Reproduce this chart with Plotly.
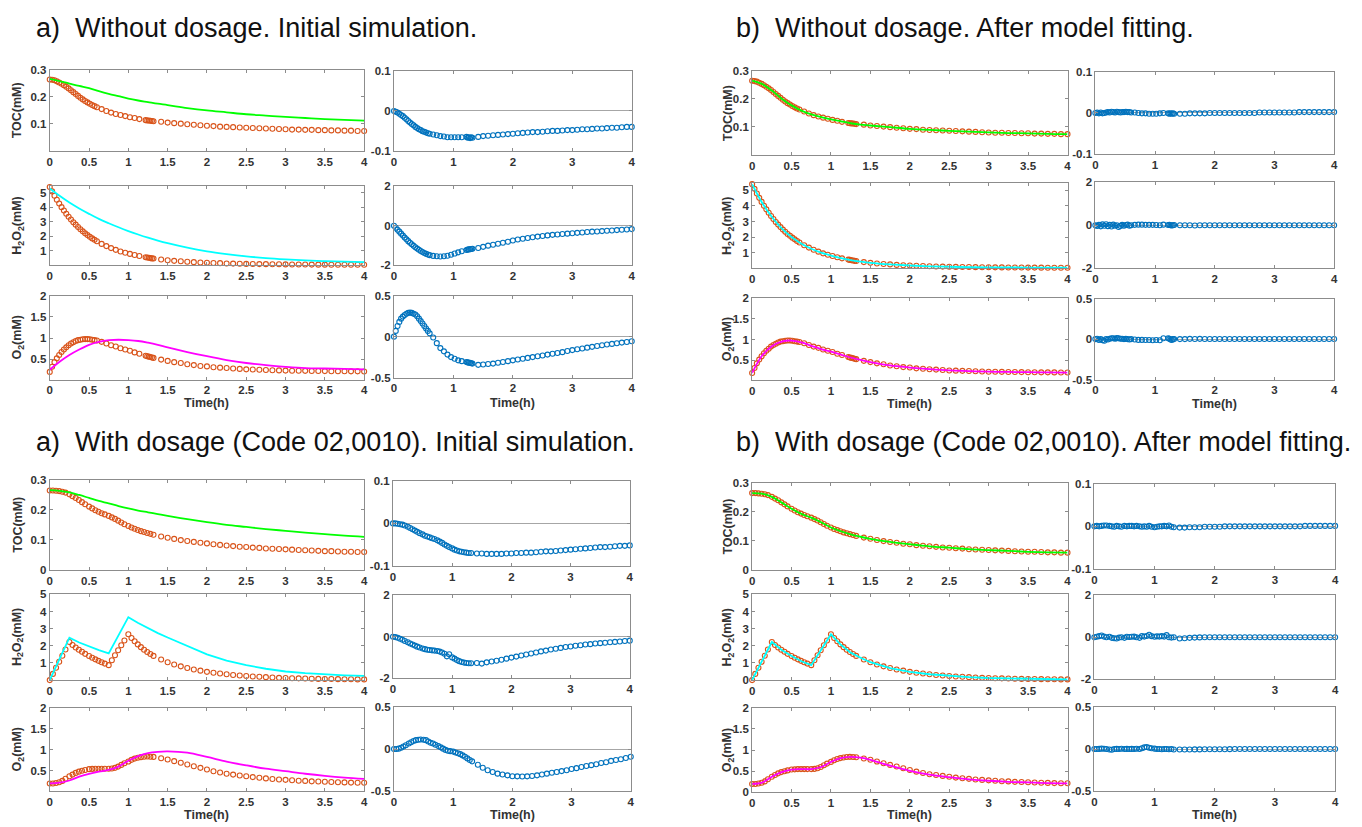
import plotly.graph_objects as go

W, H = 1362, 827

# ---------------- time grids (h) ----------------
T_TAIL = [1.417, 1.5, 1.583, 1.667, 1.75, 1.833, 1.917, 2.0,
          2.083, 2.167, 2.25, 2.333, 2.417, 2.5, 2.583, 2.667,
          2.75, 2.833, 2.917, 3.0, 3.083, 3.167, 3.25, 3.333,
          3.417, 3.5, 3.583, 3.667, 3.75, 3.833, 3.917, 4.0]
T_A = [0, 0.03, 0.06, 0.09, 0.12, 0.15, 0.18, 0.21, 0.24, 0.27, 0.30,
       0.33, 0.36, 0.39, 0.42, 0.45, 0.48, 0.51, 0.54, 0.57, 0.60,
       0.66, 0.72, 0.78, 0.84, 0.90, 0.96, 1.02, 1.08, 1.14,
       1.22, 1.24, 1.26, 1.28, 1.30, 1.32] + T_TAIL
T_B = [0, 0.04, 0.08, 0.12, 0.16, 0.20, 0.25, 0.29, 0.33, 0.37, 0.41,
       0.45, 0.50, 0.54, 0.58, 0.62, 0.66, 0.70, 0.75, 0.79, 0.83, 0.87,
       0.91, 0.95, 1.00, 1.04, 1.08, 1.12, 1.16, 1.20, 1.24, 1.28, 1.32] + T_TAIL
T_M = [0, 0.125, 0.25, 0.375, 0.5, 0.625, 0.75, 0.875, 1.0, 1.125, 1.25, 1.375,
       1.5, 1.75, 2.0, 2.25, 2.5, 2.75, 3.0, 3.25, 3.5, 3.75, 4.0]

# ---------------- experiment without dosage ----------------
TOC_A = [0.265, 0.264, 0.262, 0.258, 0.254, 0.249, 0.244, 0.238, 0.232, 0.225, 0.218,
         0.211, 0.204, 0.197, 0.191, 0.185, 0.180, 0.175, 0.170, 0.166, 0.162,
         0.155, 0.148, 0.142, 0.137, 0.133, 0.129, 0.125, 0.122, 0.118,
         0.114, 0.113, 0.1125, 0.112, 0.111, 0.110,
         0.108, 0.105, 0.103, 0.101, 0.099, 0.097, 0.095, 0.093,
         0.092, 0.090, 0.089, 0.088, 0.087, 0.086, 0.085, 0.084,
         0.083, 0.082, 0.081, 0.080, 0.079, 0.079, 0.078, 0.078,
         0.077, 0.077, 0.076, 0.076, 0.075, 0.075, 0.074, 0.074]
H2O2_A = [5.40, 5.10, 4.80, 4.52, 4.26, 4.01, 3.78, 3.56, 3.35, 3.16, 2.97,
          2.80, 2.64, 2.48, 2.34, 2.20, 2.08, 1.96, 1.85, 1.75, 1.65,
          1.47, 1.32, 1.18, 1.06, 0.95, 0.86, 0.78, 0.70, 0.63,
          0.55, 0.53, 0.51, 0.49, 0.47, 0.46,
          0.39, 0.34, 0.30, 0.27, 0.24, 0.21, 0.19, 0.17,
          0.15, 0.14, 0.12, 0.11, 0.10, 0.09, 0.08, 0.075,
          0.07, 0.065, 0.06, 0.055, 0.05, 0.047, 0.044, 0.041,
          0.038, 0.036, 0.034, 0.032, 0.030, 0.029, 0.028, 0.027]
O2_A = [0.20, 0.32, 0.43, 0.52, 0.60, 0.67, 0.73, 0.78, 0.83, 0.87, 0.90,
        0.93, 0.95, 0.96, 0.97, 0.975, 0.975, 0.97, 0.96, 0.95, 0.94,
        0.91, 0.87, 0.83, 0.80, 0.76, 0.73, 0.70, 0.66, 0.63,
        0.58, 0.57, 0.56, 0.55, 0.54, 0.53,
        0.49, 0.46, 0.43, 0.41, 0.38, 0.36, 0.34, 0.33,
        0.31, 0.30, 0.29, 0.28, 0.27, 0.26, 0.255, 0.25,
        0.245, 0.24, 0.235, 0.23, 0.228, 0.226, 0.224, 0.222,
        0.22, 0.218, 0.216, 0.215, 0.214, 0.213, 0.212, 0.21]

# initial simulation (a) models
TOC_A_SIM = [0.267, 0.259, 0.250, 0.241, 0.233, 0.222, 0.212, 0.203, 0.194, 0.187, 0.181, 0.175,
             0.170, 0.159, 0.150, 0.143, 0.136, 0.131, 0.126, 0.122, 0.118, 0.115, 0.112]
H2O2_A_SIM = [5.30, 4.80, 4.33, 3.92, 3.55, 3.20, 2.90, 2.62, 2.36, 2.12, 1.90, 1.70,
              1.52, 1.21, 0.96, 0.77, 0.61, 0.49, 0.40, 0.33, 0.28, 0.24, 0.21]
O2_A_SIM = [0.25, 0.44, 0.60, 0.73, 0.84, 0.91, 0.95, 0.96, 0.95, 0.93, 0.89, 0.84,
            0.78, 0.67, 0.57, 0.48, 0.41, 0.36, 0.32, 0.29, 0.28, 0.27, 0.26]
# residuals (a)
TOC_A_RES = [0, -0.002, -0.004, -0.007, -0.010, -0.013, -0.017, -0.021, -0.025, -0.029, -0.033,
             -0.036, -0.040, -0.043, -0.046, -0.048, -0.051, -0.052, -0.054, -0.056, -0.057,
             -0.059, -0.061, -0.063, -0.064, -0.066, -0.066, -0.066, -0.066, -0.066,
             -0.065, -0.067, -0.066, -0.068, -0.066, -0.067,
             -0.065, -0.063, -0.062, -0.061, -0.060, -0.059, -0.058, -0.057,
             -0.056, -0.055, -0.054, -0.053, -0.053, -0.052, -0.051, -0.050,
             -0.050, -0.049, -0.048, -0.048, -0.047, -0.046, -0.046, -0.045,
             -0.044, -0.044, -0.043, -0.042, -0.042, -0.041, -0.040, -0.040]
H2O2_A_RES = [0, -0.10, -0.20, -0.30, -0.40, -0.50, -0.60, -0.69, -0.78, -0.86, -0.94,
              -1.02, -1.09, -1.16, -1.22, -1.28, -1.33, -1.38, -1.42, -1.46, -1.49,
              -1.53, -1.55, -1.56, -1.55, -1.52, -1.47, -1.41, -1.35, -1.29,
              -1.23, -1.21, -1.20, -1.19, -1.18, -1.17,
              -1.13, -1.07, -1.01, -0.96, -0.91, -0.86, -0.81, -0.75,
              -0.70, -0.66, -0.62, -0.58, -0.55, -0.52, -0.49, -0.46,
              -0.44, -0.42, -0.40, -0.38, -0.36, -0.34, -0.32, -0.30,
              -0.29, -0.27, -0.25, -0.24, -0.22, -0.20, -0.19, -0.17]
O2_A_RES = [0, 0.07, 0.13, 0.18, 0.22, 0.245, 0.265, 0.28, 0.29, 0.295, 0.29,
            0.28, 0.27, 0.25, 0.22, 0.19, 0.16, 0.13, 0.10, 0.07, 0.04,
            -0.01, -0.08, -0.14, -0.18, -0.22, -0.25, -0.27, -0.29, -0.30,
            -0.31, -0.315, -0.32, -0.32, -0.325, -0.33,
            -0.345, -0.34, -0.335, -0.33, -0.32, -0.31, -0.30, -0.29,
            -0.28, -0.27, -0.26, -0.25, -0.24, -0.23, -0.22, -0.21,
            -0.20, -0.19, -0.175, -0.165, -0.155, -0.145, -0.135, -0.125,
            -0.115, -0.105, -0.097, -0.089, -0.081, -0.073, -0.065, -0.057]

# fitted (b) models
TOC_B_FIT = [0.266, 0.254, 0.230, 0.201, 0.177, 0.158, 0.145, 0.135, 0.127, 0.120, 0.113, 0.108,
             0.105, 0.099, 0.093, 0.089, 0.086, 0.083, 0.080, 0.078, 0.077, 0.075, 0.074]
H2O2_B_FIT = [5.40, 4.22, 3.29, 2.56, 2.00, 1.57, 1.25, 1.00, 0.81, 0.65, 0.52, 0.42,
              0.34, 0.24, 0.17, 0.12, 0.09, 0.07, 0.055, 0.046, 0.038, 0.032, 0.027]
O2_B_FIT = [0.20, 0.61, 0.84, 0.95, 0.975, 0.93, 0.85, 0.77, 0.71, 0.64, 0.57, 0.51,
            0.46, 0.38, 0.33, 0.29, 0.26, 0.245, 0.23, 0.224, 0.218, 0.214, 0.21]
# residuals (b)
TOC_B_RES = [0, 0.001, -0.001, 0.001, -0.001, 0, 0.001, 0.002, 0.001, 0.003, 0.002,
             0.001, 0.003, 0.002, 0.001, 0.002, 0.002, 0.003, 0.002, 0.002, 0.001,
             0.001, 0, -0.001, -0.001, -0.002, -0.002, -0.002, -0.001, 0,
             -0.001, -0.002, -0.001, -0.002, -0.001, -0.002,
             -0.002, -0.002, -0.001, -0.001, -0.001, -0.001, 0, 0,
             0, 0, 0, 0, 0, 0, 0, 0,
             0.001, 0.001, 0.001, 0.001, 0.001, 0.001, 0.001, 0.001,
             0.002, 0.002, 0.002, 0.002, 0.002, 0.002, 0.002, 0.002]
H2O2_B_RES = [0, -0.03, 0.02, -0.05, 0.04, -0.02, 0.05, -0.04, 0.02, -0.06, 0.03,
              -0.02, 0.0, -0.08, -0.03, 0.02, -0.02, 0.01, 0.03, -0.02, 0.0,
              0.02, 0.03, 0.03, 0.02, 0.02, 0.02, 0.01, 0.0, 0.03,
              0.01, 0.02, 0.0, -0.01, 0.0, 0.01,
              0, 0, 0, -0.01, 0, 0, 0, 0,
              0, 0, 0, 0, 0, 0, 0, 0,
              0, 0, 0, 0, 0, 0, 0, 0,
              0, 0, 0, 0, 0, 0, 0, 0]
O2_B_RES = [0, 0.005, -0.01, 0.0, -0.015, -0.02, 0.0, -0.005, 0.005, 0.01, 0.01,
            0.005, 0.012, 0.01, 0.005, 0.005, 0.0, 0.003, 0.0, -0.005, 0.0,
            -0.005, -0.01, -0.01, -0.012, -0.012, -0.015, -0.012, -0.015, 0.01,
            0.01, 0.005, -0.005, -0.01, 0.0, 0.0,
            0, 0, 0.003, 0.002, 0.003, 0.002, 0.002, 0.002,
            0.002, 0.002, 0.002, 0.002, 0.002, 0.002, 0.002, 0.002,
            0.001, 0.001, 0.001, 0.001, 0.001, 0.001, 0.001, 0.001,
            0.001, 0.001, 0.001, 0.001, 0.001, 0.001, 0.001, 0.001]

# ---------------- experiment with dosage (Code 02,0010) ----------------
TOC_C = [0.265, 0.265, 0.264, 0.263, 0.261, 0.258, 0.252, 0.246, 0.240, 0.233, 0.226,
         0.219, 0.211, 0.205, 0.199, 0.194, 0.189, 0.185, 0.180, 0.175, 0.170, 0.164,
         0.158, 0.152, 0.146, 0.141, 0.137, 0.133, 0.129, 0.126, 0.123, 0.120, 0.117,
         0.111, 0.107, 0.103, 0.099, 0.096, 0.093, 0.090, 0.088,
         0.085, 0.083, 0.081, 0.079, 0.077, 0.076, 0.074, 0.073,
         0.071, 0.070, 0.069, 0.068, 0.067, 0.066, 0.065, 0.064,
         0.063, 0.062, 0.062, 0.061, 0.060, 0.060, 0.059, 0.059]
H2O2_C = [0.0, 0.36, 0.72, 1.07, 1.42, 1.78, 2.22, 2.05, 1.90, 1.77, 1.65,
          1.53, 1.40, 1.30, 1.21, 1.12, 1.04, 0.96, 0.87, 1.16, 1.45, 1.74,
          2.03, 2.31, 2.67, 2.45, 2.26, 2.08, 1.92, 1.77, 1.64, 1.52, 1.41,
          1.20, 1.04, 0.91, 0.80, 0.70, 0.62, 0.55, 0.48,
          0.43, 0.38, 0.34, 0.30, 0.27, 0.24, 0.21, 0.19,
          0.17, 0.15, 0.13, 0.12, 0.11, 0.10, 0.09, 0.08,
          0.07, 0.065, 0.06, 0.055, 0.05, 0.045, 0.04, 0.04]
O2_C = [0.20, 0.20, 0.21, 0.23, 0.26, 0.31, 0.37, 0.41, 0.45, 0.48, 0.50,
        0.52, 0.54, 0.545, 0.55, 0.55, 0.55, 0.55, 0.55, 0.555, 0.57, 0.60,
        0.64, 0.68, 0.72, 0.76, 0.79, 0.81, 0.825, 0.835, 0.84, 0.835, 0.83,
        0.80, 0.77, 0.73, 0.69, 0.65, 0.61, 0.57, 0.53,
        0.49, 0.46, 0.43, 0.41, 0.39, 0.37, 0.35, 0.335,
        0.32, 0.305, 0.295, 0.285, 0.275, 0.265, 0.26, 0.25,
        0.245, 0.24, 0.235, 0.23, 0.225, 0.22, 0.218, 0.215]

# initial simulation (c) models
TOC_C_SIM = [0.266, 0.264, 0.259, 0.250, 0.240, 0.230, 0.222, 0.213, 0.205, 0.198, 0.192, 0.186,
             0.180, 0.169, 0.159, 0.150, 0.143, 0.136, 0.130, 0.124, 0.119, 0.114, 0.110]
H2O2_C_SIM = [0.0, 1.24, 2.47, 2.19, 1.96, 1.75, 1.56, 2.61, 3.67, 3.33, 3.02, 2.74,
              2.48, 1.98, 1.50, 1.14, 0.87, 0.66, 0.50, 0.40, 0.33, 0.28, 0.24]
O2_C_SIM = [0.20, 0.22, 0.27, 0.36, 0.43, 0.48, 0.52, 0.60, 0.74, 0.85, 0.92, 0.95,
            0.96, 0.93, 0.83, 0.72, 0.63, 0.55, 0.49, 0.43, 0.38, 0.34, 0.31]
# residuals (c)
TOC_C_RES = [0, 0, -0.001, -0.002, -0.003, -0.005, -0.008, -0.011, -0.014, -0.017, -0.020,
             -0.023, -0.026, -0.029, -0.031, -0.033, -0.035, -0.037, -0.040, -0.043, -0.046, -0.050,
             -0.053, -0.056, -0.059, -0.062, -0.064, -0.066, -0.067, -0.068, -0.069, -0.070, -0.070,
             -0.071, -0.071, -0.072, -0.072, -0.072, -0.072, -0.071, -0.071,
             -0.070, -0.070, -0.069, -0.069, -0.068, -0.067, -0.066, -0.066,
             -0.065, -0.064, -0.063, -0.062, -0.061, -0.060, -0.059, -0.058,
             -0.057, -0.056, -0.056, -0.055, -0.054, -0.053, -0.053, -0.052]
H2O2_C_RES = [0, -0.02, -0.05, -0.10, -0.15, -0.21, -0.27, -0.33, -0.38, -0.43, -0.48,
              -0.52, -0.57, -0.60, -0.63, -0.64, -0.66, -0.67, -0.69, -0.72, -0.76, -0.82,
              -0.95, -0.85, -1.00, -1.06, -1.13, -1.18, -1.22, -1.25, -1.27, -1.28, -1.28,
              -1.27, -1.30, -1.24, -1.20, -1.16, -1.11, -1.06, -1.01,
              -0.96, -0.91, -0.86, -0.81, -0.76, -0.71, -0.67, -0.62,
              -0.58, -0.54, -0.50, -0.47, -0.44, -0.41, -0.38, -0.36,
              -0.33, -0.31, -0.29, -0.27, -0.25, -0.23, -0.21, -0.19]
O2_C_RES = [0, 0.0, 0.005, 0.015, 0.03, 0.045, 0.065, 0.08, 0.095, 0.105, 0.11,
            0.112, 0.11, 0.105, 0.09, 0.075, 0.065, 0.05, 0.035, 0.02, 0.005, -0.01,
            -0.02, -0.025, -0.03, -0.04, -0.05, -0.06, -0.075, -0.09, -0.11, -0.13, -0.145,
            -0.185, -0.22, -0.25, -0.27, -0.29, -0.30, -0.31, -0.32,
            -0.322, -0.323, -0.322, -0.318, -0.31, -0.30, -0.29, -0.28,
            -0.27, -0.26, -0.25, -0.235, -0.225, -0.212, -0.20, -0.19,
            -0.18, -0.165, -0.155, -0.14, -0.13, -0.12, -0.105, -0.09]

# fitted (d) models
TOC_D_FIT = [0.265, 0.263, 0.252, 0.232, 0.211, 0.193, 0.180, 0.164, 0.146, 0.133, 0.122, 0.114,
             0.107, 0.096, 0.088, 0.081, 0.076, 0.071, 0.068, 0.065, 0.062, 0.060, 0.059]
H2O2_D_FIT = [0.0, 1.11, 2.22, 1.76, 1.40, 1.10, 0.87, 1.77, 2.67, 2.06, 1.60, 1.30,
              1.04, 0.70, 0.48, 0.34, 0.24, 0.17, 0.12, 0.09, 0.065, 0.05, 0.04]
O2_D_FIT = [0.20, 0.23, 0.37, 0.48, 0.54, 0.55, 0.55, 0.60, 0.72, 0.81, 0.84, 0.82,
            0.77, 0.63, 0.51, 0.42, 0.36, 0.31, 0.275, 0.25, 0.235, 0.22, 0.215]
# residuals (d)
TOC_D_RES = [0, 0.001, 0, 0.001, 0.002, 0.002, 0.001, 0, -0.001, 0.001, 0,
             -0.001, 0.001, 0, 0.001, 0.001, 0, 0.001, 0, -0.001, 0, -0.001,
             0.001, -0.001, -0.002, -0.001, 0, 0, 0.001, 0, 0.002, -0.001, -0.002,
             -0.003, -0.003, -0.002, -0.002, -0.002, -0.001, -0.001, -0.001,
             -0.001, 0, 0, 0, 0, 0, 0, 0,
             0, 0, 0, 0, 0, 0, 0, 0,
             0, 0.001, 0.001, 0.001, 0.001, 0.001, 0.001, 0.001]
H2O2_D_RES = [0, 0.02, 0.05, 0.08, 0.03, 0.0, 0.02, -0.03, -0.05, -0.06, -0.02,
              0.0, -0.03, 0.02, 0.01, 0.02, 0.03, 0.0, -0.03, 0.05, 0.03, 0.06,
              0.12, 0.05, 0.02, 0.04, 0.03, 0.05, 0.03, 0.10, 0.0, -0.02, 0.0,
              -0.06, -0.05, -0.03, -0.02, -0.01, 0, 0, 0,
              0, 0, 0, 0, 0, 0, 0, 0,
              0, 0, 0, 0, 0, 0, 0, 0,
              0, 0, 0, 0, 0, 0, 0, 0]
O2_D_RES = [0, 0, 0.002, 0.005, 0.003, 0.0, -0.005, -0.008, 0.0, 0.002, 0.0,
            0.003, 0.0, 0.002, 0.0, 0.002, 0.0, 0.003, 0.0, 0.01, 0.02, 0.025,
            0.015, 0.01, 0.005, 0.0, 0.0, -0.002, 0.0, 0.0, -0.003, 0.0, -0.005,
            -0.006, -0.006, -0.005, -0.004, -0.004, -0.003, -0.003, -0.002,
            -0.002, -0.002, -0.001, 0, 0, 0, 0, 0,
            0, 0, 0, 0, 0, 0, 0, 0,
            0, 0, 0, 0, 0, 0, 0, 0]

# ---------------- labels ----------------
TITLES = ["a)  Without dosage. Initial simulation.",
          "b)  Without dosage. After model fitting.",
          "a)  With dosage (Code 02,0010). Initial simulation.",
          "b)  With dosage (Code 02,0010). After model fitting."]
Y_LABELS = ["TOC(mM)", "H<sub>2</sub>O<sub>2</sub>(mM)", "O<sub>2</sub>(mM)"]
X_LABEL = "Time(h)"
XT_LEFT = [0, 0.5, 1, 1.5, 2, 2.5, 3, 3.5, 4]
XT_LEFT_TXT = ["0", "0.5", "1", "1.5", "2", "2.5", "3", "3.5", "4"]
XT_RIGHT = [0, 1, 2, 3, 4]
XT_RIGHT_TXT = ["0", "1", "2", "3", "4"]

# ---------------- styling ----------------
ORANGE, BLUE = '#D95319', '#0072BD'
GREEN, CYAN, MAGENTA = '#00FF00', '#00FFFF', '#FF00FF'
AXC = '#8c8c8c'
TXT = '#333333'
FONT = 'Liberation Sans, Arial, sans-serif'

fig = go.Figure()
layout_axes = {}
annotations = []
count = [0]


def add_panel(box, yrange, yticks, yticktext, xticks, xticktext, series, resid=False):
    count[0] += 1
    n = count[0]
    sfx = '' if n == 1 else str(n)
    l, t, r, b = box
    for s in series:
        kind = s[0]
        if kind in ('exp', 'res'):
            fig.add_trace(go.Scatter(x=s[1], y=s[2], mode='markers', cliponaxis=False,
                                     marker=dict(symbol='circle-open', size=5,
                                                 color=ORANGE if kind == 'exp' else BLUE,
                                                 line=dict(width=1.1)),
                                     xaxis='x' + sfx, yaxis='y' + sfx, showlegend=False,
                                     hoverinfo='skip'))
        else:
            fig.add_trace(go.Scatter(x=s[1], y=s[2], mode='lines',
                                     line=dict(color=s[3], width=1.8, shape=s[4]),
                                     xaxis='x' + sfx, yaxis='y' + sfx, showlegend=False,
                                     hoverinfo='skip'))
    common = dict(showline=True, linecolor=AXC, linewidth=1, mirror='ticks', ticks='inside',
                  ticklen=3, tickcolor=AXC, showgrid=False,
                  tickfont=dict(family=FONT, size=11.5, color=TXT, weight='bold'))
    layout_axes['xaxis' + sfx] = dict(domain=[l / W, r / W], anchor='y' + sfx, range=[0, 4],
                                      tickmode='array', tickvals=xticks, ticktext=xticktext,
                                      zeroline=False, **common)
    layout_axes['yaxis' + sfx] = dict(domain=[1 - b / H, 1 - t / H], anchor='x' + sfx,
                                      range=yrange, tickmode='array', tickvals=yticks,
                                      ticktext=yticktext, zeroline=resid,
                                      zerolinecolor='#a6a6a6', zerolinewidth=1, **common)


def ylab(text, xc, box, shift):
    l, t, r, b = box
    annotations.append(dict(text=text, x=xc / W, y=1 - (t + b) / 2 / H, xref='paper', yref='paper',
                            showarrow=False, textangle=-90, xanchor='center', yanchor='middle',
                            xshift=shift,
                            font=dict(family=FONT, size=12.5, color=TXT, weight='bold')))


def xlab(box, yc):
    l, t, r, b = box
    annotations.append(dict(text=X_LABEL, x=(l + r) / 2 / W, y=1 - yc / H, xref='paper', yref='paper',
                            showarrow=False, xanchor='center', yanchor='middle',
                            font=dict(family=FONT, size=12.5, color=TXT, weight='bold')))


def title(text, x, yc):
    annotations.append(dict(text=text, x=x / W, y=1 - yc / H, xref='paper', yref='paper',
                            showarrow=False, xanchor='left', yanchor='middle',
                            font=dict(family=FONT, size=27, color='#111111')))


RES_SPEC = [([-0.1, 0.1], [-0.1, 0, 0.1], ["-0.1", "0", "0.1"]),
            ([-2, 2], [-2, 0, 2], ["-2", "0", "2"]),
            ([-0.5, 0.5], [-0.5, 0, 0.5], ["-0.5", "0", "0.5"])]


def group(boxL, boxR, left_specs, exps, models, res, colors, shapes, t_exp, ylab_x, ylab_shift, xlab_y):
    for k in range(3):
        yr, yt, ytt = left_specs[k]
        add_panel(boxL[k], yr, yt, ytt, XT_LEFT, XT_LEFT_TXT,
                  [('exp', t_exp, exps[k]), ('line', T_M, models[k], colors[k], shapes[k])])
        ylab(Y_LABELS[k], ylab_x, boxL[k], ylab_shift)
        ryr, ryt, rytt = RES_SPEC[k]
        add_panel(boxR[k], ryr, ryt, rytt, XT_RIGHT, XT_RIGHT_TXT, [('res', t_exp, res[k])], resid=True)
    xlab(boxL[2], xlab_y)
    xlab(boxR[2], xlab_y)


COLORS = [GREEN, CYAN, MAGENTA]

# group a
group([(47, 65, 363, 147), (47, 183, 363, 263), (47, 294, 363, 379)],
      [(393, 66, 632, 147), (393, 183, 632, 263), (393, 294, 632, 377)],
      [([0, 0.3], [0.1, 0.2, 0.3], ["0.1", "0.2", "0.3"]),
       ([0, 5.45], [1, 2, 3, 4, 5], ["1", "2", "3", "4", "5"]),
       ([0.02, 2], [0.5, 1, 1.5, 2], ["0.5", "1", "1.5", "2"])],
      [TOC_A, H2O2_A, O2_A], [TOC_A_SIM, H2O2_A_SIM, O2_A_SIM],
      [TOC_A_RES, H2O2_A_RES, O2_A_RES], COLORS, ['spline', 'spline', 'spline'], T_A, 21, -6, 403)
# group b
group([(753, 66, 1070, 151), (753, 180, 1070, 266), (753, 296, 1070, 380)],
      [(1098, 67, 1338, 150), (1098, 179, 1338, 266), (1098, 297, 1338, 379)],
      [([0, 0.3], [0.1, 0.2, 0.3], ["0.1", "0.2", "0.3"]),
       ([0, 5.45], [1, 2, 3, 4, 5], ["1", "2", "3", "4", "5"]),
       ([0.02, 2], [0.5, 1, 1.5, 2], ["0.5", "1", "1.5", "2"])],
      [TOC_A, H2O2_A, O2_A], [TOC_B_FIT, H2O2_B_FIT, O2_B_FIT],
      [TOC_B_RES, H2O2_B_RES, O2_B_RES], COLORS, ['spline', 'spline', 'spline'], T_A, 729, 0, 404)
# group c
group([(47, 481, 363, 572), (47, 597, 363, 684), (47, 712, 363, 797)],
      [(392, 482, 630, 568), (392, 598, 630, 682), (393, 711, 631, 797)],
      [([0, 0.3], [0, 0.1, 0.2, 0.3], ["0", "0.1", "0.2", "0.3"]),
       ([0, 5], [1, 2, 3, 4, 5], ["1", "2", "3", "4", "5"]),
       ([0.01, 2], [0.5, 1, 1.5, 2], ["0.5", "1", "1.5", "2"])],
      [TOC_C, H2O2_C, O2_C], [TOC_C_SIM, H2O2_C_SIM, O2_C_SIM],
      [TOC_C_RES, H2O2_C_RES, O2_C_RES], COLORS, ['spline', 'linear', 'spline'], T_B, 21, -6, 821)
# group d
group([(753, 484, 1070, 572), (753, 597, 1070, 684), (753, 712, 1070, 798)],
      [(1097, 485, 1339, 571), (1097, 598, 1339, 683), (1097, 711, 1339, 797)],
      [([0, 0.3], [0, 0.1, 0.2, 0.3], ["0", "0.1", "0.2", "0.3"]),
       ([0, 5], [0, 1, 2, 3, 4, 5], ["0", "1", "2", "3", "4", "5"]),
       ([0, 2], [0, 0.5, 1, 1.5, 2], ["0", "0.5", "1", "1.5", "2"])],
      [TOC_C, H2O2_C, O2_C], [TOC_D_FIT, H2O2_D_FIT, O2_D_FIT],
      [TOC_D_RES, H2O2_D_RES, O2_D_RES], COLORS, ['spline', 'linear', 'spline'], T_B, 729, 0, 821)

title(TITLES[0], 31, 22)
title(TITLES[1], 735, 22)
title(TITLES[2], 31, 442)
title(TITLES[3], 735, 442)

fig.update_layout(width=W, height=H, margin=dict(l=0, r=0, t=0, b=0),
                  paper_bgcolor='white', plot_bgcolor='white', showlegend=False,
                  annotations=annotations, **layout_axes)
fig.write_html("out.html", config={'displayModeBar': False},
               post_script="document.body.style.margin='0';document.body.style.overflow='hidden';")
